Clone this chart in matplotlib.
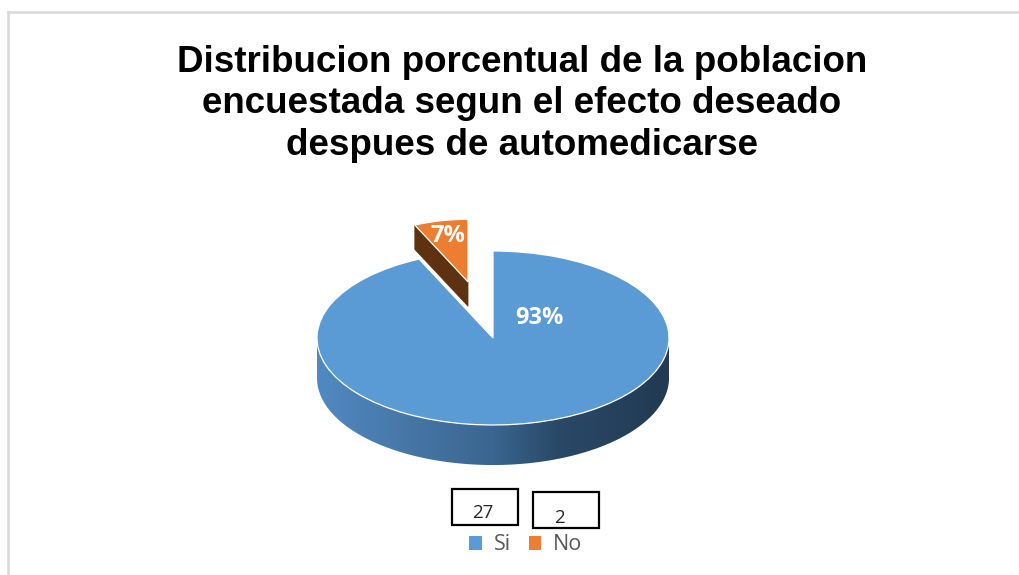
import numpy as np
import matplotlib
matplotlib.use("Agg")
import matplotlib.pyplot as plt
from matplotlib.patches import Polygon, Rectangle
from matplotlib.colors import LinearSegmentedColormap
from matplotlib.lines import Line2D

# ---------------- data ----------------
categories = ["Si", "No"]
counts = [27, 2]
title = ("Distribucion porcentual de la poblacion\n"
         "encuestada segun el efecto deseado\n"
         "despues de automedicarse")

# ---------------- style ----------------
top_colors = ["#5b9bd5", "#ed7d31"]
side_colors = [None, "#5e3210"]
explode = [0, 0.66]
slice_radius = [1.0, 0.72]
slice_depth = [0.46, 0.28]

W, H = 1019, 575
fig = plt.figure(figsize=(W / 100, H / 100), dpi=100)
ax = fig.add_axes([0, 0, 1, 1])

cx_px, cy_px = 493, 338
rx_px, ry_px = 176, 87

wedges, _ = ax.pie(counts, startangle=90, counterclock=False, explode=explode,
                   colors=top_colors,
                   wedgeprops=dict(edgecolor="white", linewidth=0.9))
ax.set_aspect("auto")
ax.axis("off")

for w, r in zip(wedges, slice_radius):
    w.set_radius(r)

side_cmap = LinearSegmentedColormap.from_list(
    "side", [(0.0, "#5089c2"), (0.25, "#4777a7"), (0.5, "#3a6590"),
             (0.68, "#2a4968"), (1.0, "#223a52")])


def front_arcs(t1, t2):
    """angle intervals (deg) within [t1,t2] where the outer wall faces viewer"""
    out = []
    for k in range(-3, 3):
        a, b = 180 + 360 * k, 360 + 360 * k
        lo, hi = max(a, t1), min(b, t2)
        if hi > lo:
            out.append((lo, hi))
    return out


for i, w in enumerate(wedges):
    cx, cy = w.center
    r = w.r
    t1, t2 = w.theta1, w.theta2
    d = slice_depth[i]
    w.set_zorder(5 if i == 0 else 2)
    polys = []
    for lo, hi in front_arcs(t1, t2):
        th = np.radians(np.linspace(lo, hi, 200))
        xs = cx + r * np.cos(th)
        ys = cy + r * np.sin(th)
        pts = np.concatenate([np.column_stack([xs, ys]),
                              np.column_stack([xs[::-1], ys[::-1] - d])])
        polys.append(pts)
    # radial faces turned toward the viewer
    for t, sgn in ((t1, 1), (t2, -1)):
        c = np.cos(np.radians(t))
        if sgn * c > 1e-6:
            ex, ey = cx + r * np.cos(np.radians(t)), cy + r * np.sin(np.radians(t))
            polys.append(np.array([[cx, cy], [ex, ey], [ex, ey - d], [cx, cy - d]]))
    for pts in polys:
        if side_colors[i] is None:
            poly = Polygon(pts, closed=True, facecolor="none", edgecolor="none",
                           zorder=4)
            ax.add_patch(poly)
            x0, x1 = cx - r, cx + r
            grad = np.linspace(0, 1, 256).reshape(1, -1)
            im = ax.imshow(grad, extent=[x0, x1, cy - r - d, cy + r], aspect="auto",
                           cmap=side_cmap, zorder=4, interpolation="bilinear")
            im.set_clip_path(poly)
        else:
            poly = Polygon(pts, closed=True, facecolor=side_colors[i],
                           edgecolor=side_colors[i], linewidth=0.5, zorder=1.5)
            ax.add_patch(poly)

ax.set_xlim(-cx_px / rx_px, (W - cx_px) / rx_px)
ax.set_ylim(-(H - cy_px) / ry_px, cy_px / ry_px)

# percentage labels
total = sum(counts)
pcts = [f"{round(100 * c / total):.0f}%" for c in counts]
lab_pos = []
lab_pos.append((wedges[0].center[0] + 0.35 * np.cos(np.radians(41)),
                wedges[0].center[1] + 0.35 * np.sin(np.radians(41))))
w1 = wedges[1]
mid = np.radians((w1.theta1 + w1.theta2) / 2)
lab_pos.append((w1.center[0] + 0.75 * w1.r * np.cos(mid),
                w1.center[1] + 0.75 * w1.r * np.sin(mid)))
for (x, y), t in zip(lab_pos, pcts):
    ax.text(x, y, t, ha="center", va="center", color="white", fontsize=17,
            fontweight="bold", family="Open Sans", zorder=10)

# title
fig.text(522 / W, 1 - 45 / H, title, ha="center", va="top", fontsize=26.5,
         fontweight="bold", family="Liberation Sans", linespacing=1.24,
         color="black")

# count boxes
box_specs = [(452, 489, 518, 525), (533, 492, 599, 528)]
txt_pos = [(483, 513), (559, 518)]
for (x0, y0, x1, y1), (tx, ty), c in zip(box_specs, txt_pos, counts):
    fig.add_artist(Rectangle((x0 / W, 1 - y1 / H), (x1 - x0) / W, (y1 - y0) / H,
                             transform=fig.transFigure, fill=False,
                             edgecolor="black", linewidth=1.6))
    fig.text(tx / W, 1 - ty / H, str(c), ha="center", va="center",
             fontsize=13.5, family="Open Sans", color="#262626")

# legend
handles = [Rectangle((0, 0), 1, 1, facecolor=col, edgecolor="none")
           for col in top_colors]
leg = fig.legend(handles, categories, loc="center",
                 bbox_to_anchor=(526 / W, 1 - 545 / H), ncol=2, frameon=False,
                 handlelength=0.6, handleheight=0.6, handletextpad=0.55,
                 columnspacing=0.8, prop={"family": "Open Sans", "size": 15.5})
for t in leg.get_texts():
    t.set_color("#595959")

# outer chart border (partially visible)
fig.add_artist(Line2D([8 / W, 1], [1 - 12 / H, 1 - 12 / H], color="#d9d9d9",
                      linewidth=1.8, transform=fig.transFigure))
fig.add_artist(Line2D([8 / W, 8 / W], [0, 1 - 12 / H], color="#d9d9d9",
                      linewidth=1.8, transform=fig.transFigure))

fig.savefig("out.png", dpi=100, facecolor="white")
